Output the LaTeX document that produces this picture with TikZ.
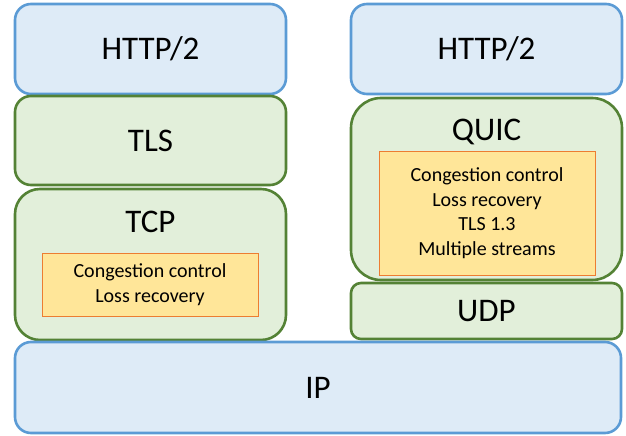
\documentclass[tikz,border=0pt]{standalone}
\usepackage{fontspec}
\setmainfont{Carlito}
\usetikzlibrary{shapes}

\definecolor{blueFill}{HTML}{DEEBF7}
\definecolor{blueLine}{HTML}{5B9BD5}
\definecolor{greenFill}{HTML}{E2EFDA}
\definecolor{greenLine}{HTML}{548235}
\definecolor{goldFill}{HTML}{FFE699}
\definecolor{goldLine}{HTML}{ED7D31}

\begin{document}
\begin{tikzpicture}[x = 1pt, y = -1pt]
\tikzstyle{bigText} = [font = \fontsize{33}{40}\selectfont]
\tikzstyle{smallText} = [font = \fontsize{20}{24.5}\selectfont, align = center]
\tikzstyle{blueLayer} = [shape = rectangle, draw = blueLine, fill = blueFill, line width = 2.6pt, rounded corners = 16pt, bigText]
\tikzstyle{greenLayer} = [shape = rectangle, draw = greenLine, fill = greenFill, line width = 2.6pt, rounded corners = 16pt, bigText]
\tikzstyle{goldBox} = [shape = rectangle, draw = goldLine, fill = goldFill, line width = 1pt, smallText, inner sep = 0pt]
\useasboundingbox (0, 0) rectangle (626, 436);
% left stack
\node[blueLayer, minimum width = 271pt, minimum height = 90pt] (httpL) at (150.5, 49) {HTTP/2};
\node[greenLayer, minimum width = 271pt, minimum height = 89pt] (tls) at (150.5, 140.5) {TLS};
\node[greenLayer, rounded corners = 25pt, minimum width = 271pt, minimum height = 151pt] (tcp) at (150.5, 264.5) {};
\node[bigText] (tcpText) at (150.5, 222) {TCP};
\node[goldBox, minimum width = 216pt, minimum height = 63pt] (tcpCC) at (150, 284.5) {Congestion control\\Loss recovery};
% right stack
\node[blueLayer, minimum width = 271pt, minimum height = 90pt] (httpR) at (486.5, 49) {HTTP/2};
\node[greenLayer, rounded corners = 30pt, minimum width = 271pt, minimum height = 182pt] (quic) at (486.5, 189) {};
\node[bigText] (quicText) at (486.5, 132) {QUIC};
\node[goldBox, minimum width = 216pt, minimum height = 124pt] (quicCC) at (487, 213) {Congestion control\\Loss recovery\\TLS 1.3\\Multiple streams};
\node[greenLayer, rounded corners = 10pt, minimum width = 271pt, minimum height = 56pt] (udp) at (486.5, 311) {UDP};
% bottom
\node[blueLayer, minimum width = 606pt, minimum height = 91pt] (ip) at (318, 387.5) {IP};
\end{tikzpicture}
\end{document}
